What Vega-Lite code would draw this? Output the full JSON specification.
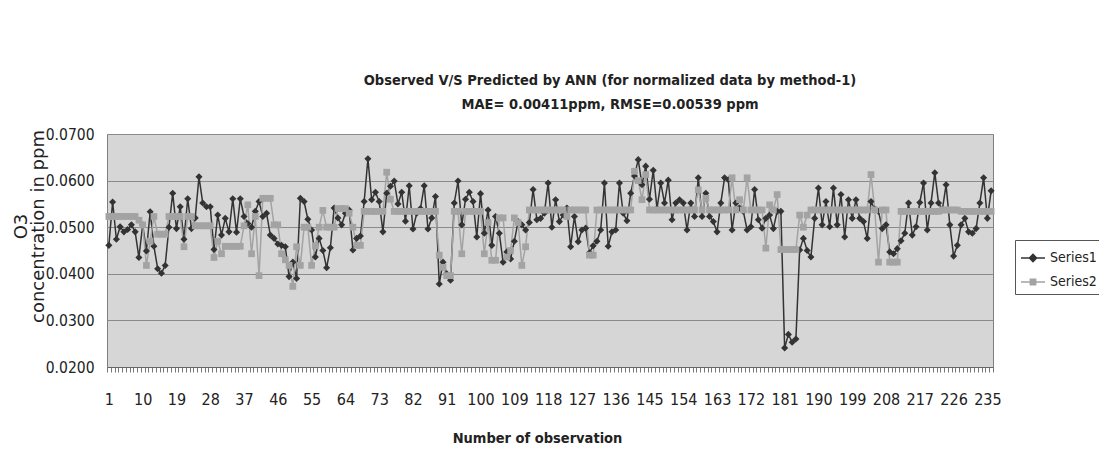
{
  "$schema": "https://vega.github.io/schema/vega-lite/v6.json",
  "width": 886,
  "height": 233,
  "autosize": {"type": "none"},
  "padding": {"left": 107, "top": 134, "right": 106, "bottom": 108},
  "background": "white",
  "title": {
    "text": ["Observed V/S Predicted by ANN (for normalized data by method-1)", "MAE= 0.00411ppm, RMSE=0.00539 ppm"],
    "font": "Liberation Sans Narrow, Arial Narrow, DejaVu Sans Condensed, sans-serif",
    "fontSize": 14.5,
    "fontWeight": "bold",
    "lineHeight": 24,
    "dx": 60,
    "offset": 15,
    "color": "#222222"
  },
  "config": {"view": {"fill": "#d6d6d6", "stroke": "#7f7f7f", "strokeWidth": 1}},
  "data": {"values": [
    {"obs":1,"Series1":0.0461,"Series2":0.0523},{"obs":2,"Series1":0.0554,"Series2":0.0523},{"obs":3,"Series1":0.0474,"Series2":0.0523},{"obs":4,"Series1":0.0501,"Series2":0.0523},{"obs":5,"Series1":0.0490,"Series2":0.0523},{"obs":6,"Series1":0.0495,"Series2":0.0523},{"obs":7,"Series1":0.0505,"Series2":0.0523},{"obs":8,"Series1":0.0490,"Series2":0.0523},{"obs":9,"Series1":0.0435,"Series2":0.0515},{"obs":10,"Series1":0.0505,"Series2":0.0505},
    {"obs":11,"Series1":0.0449,"Series2":0.0418},{"obs":12,"Series1":0.0533,"Series2":0.0470},{"obs":13,"Series1":0.0459,"Series2":0.0523},{"obs":14,"Series1":0.0411,"Series2":0.0485},{"obs":15,"Series1":0.0401,"Series2":0.0485},{"obs":16,"Series1":0.0418,"Series2":0.0485},{"obs":17,"Series1":0.0500,"Series2":0.0523},{"obs":18,"Series1":0.0573,"Series2":0.0523},{"obs":19,"Series1":0.0497,"Series2":0.0523},{"obs":20,"Series1":0.0544,"Series2":0.0523},
    {"obs":21,"Series1":0.0474,"Series2":0.0458},{"obs":22,"Series1":0.0561,"Series2":0.0523},{"obs":23,"Series1":0.0497,"Series2":0.0523},{"obs":24,"Series1":0.0520,"Series2":0.0503},{"obs":25,"Series1":0.0608,"Series2":0.0503},{"obs":26,"Series1":0.0552,"Series2":0.0503},{"obs":27,"Series1":0.0544,"Series2":0.0503},{"obs":28,"Series1":0.0544,"Series2":0.0503},{"obs":29,"Series1":0.0452,"Series2":0.0435},{"obs":30,"Series1":0.0526,"Series2":0.0470},
    {"obs":31,"Series1":0.0483,"Series2":0.0443},{"obs":32,"Series1":0.0519,"Series2":0.0459},{"obs":33,"Series1":0.0490,"Series2":0.0459},{"obs":34,"Series1":0.0561,"Series2":0.0459},{"obs":35,"Series1":0.0489,"Series2":0.0459},{"obs":36,"Series1":0.0561,"Series2":0.0459},{"obs":37,"Series1":0.0523,"Series2":0.0503},{"obs":38,"Series1":0.0508,"Series2":0.0548},{"obs":39,"Series1":0.0500,"Series2":0.0443},{"obs":40,"Series1":0.0534,"Series2":0.0523},
    {"obs":41,"Series1":0.0555,"Series2":0.0396},{"obs":42,"Series1":0.0523,"Series2":0.0562},{"obs":43,"Series1":0.0530,"Series2":0.0562},{"obs":44,"Series1":0.0483,"Series2":0.0562},{"obs":45,"Series1":0.0476,"Series2":0.0505},{"obs":46,"Series1":0.0464,"Series2":0.0505},{"obs":47,"Series1":0.0461,"Series2":0.0443},{"obs":48,"Series1":0.0458,"Series2":0.0430},{"obs":49,"Series1":0.0394,"Series2":0.0418},{"obs":50,"Series1":0.0425,"Series2":0.0373},
    {"obs":51,"Series1":0.0390,"Series2":0.0458},{"obs":52,"Series1":0.0562,"Series2":0.0418},{"obs":53,"Series1":0.0555,"Series2":0.0500},{"obs":54,"Series1":0.0517,"Series2":0.0500},{"obs":55,"Series1":0.0494,"Series2":0.0418},{"obs":56,"Series1":0.0436,"Series2":0.0460},{"obs":57,"Series1":0.0476,"Series2":0.0500},{"obs":58,"Series1":0.0450,"Series2":0.0536},{"obs":59,"Series1":0.0413,"Series2":0.0500},{"obs":60,"Series1":0.0456,"Series2":0.0500},
    {"obs":61,"Series1":0.0541,"Series2":0.0500},{"obs":62,"Series1":0.0520,"Series2":0.0540},{"obs":63,"Series1":0.0505,"Series2":0.0540},{"obs":64,"Series1":0.0530,"Series2":0.0540},{"obs":65,"Series1":0.0537,"Series2":0.0530},{"obs":66,"Series1":0.0451,"Series2":0.0500},{"obs":67,"Series1":0.0476,"Series2":0.0461},{"obs":68,"Series1":0.0481,"Series2":0.0461},{"obs":69,"Series1":0.0555,"Series2":0.0534},{"obs":70,"Series1":0.0647,"Series2":0.0534},
    {"obs":71,"Series1":0.0559,"Series2":0.0534},{"obs":72,"Series1":0.0575,"Series2":0.0534},{"obs":73,"Series1":0.0555,"Series2":0.0534},{"obs":74,"Series1":0.0490,"Series2":0.0534},{"obs":75,"Series1":0.0573,"Series2":0.0618},{"obs":76,"Series1":0.0588,"Series2":0.0560},{"obs":77,"Series1":0.0599,"Series2":0.0534},{"obs":78,"Series1":0.0550,"Series2":0.0534},{"obs":79,"Series1":0.0575,"Series2":0.0534},{"obs":80,"Series1":0.0513,"Series2":0.0534},
    {"obs":81,"Series1":0.0589,"Series2":0.0534},{"obs":82,"Series1":0.0496,"Series2":0.0534},{"obs":83,"Series1":0.0530,"Series2":0.0534},{"obs":84,"Series1":0.0540,"Series2":0.0534},{"obs":85,"Series1":0.0589,"Series2":0.0534},{"obs":86,"Series1":0.0496,"Series2":0.0534},{"obs":87,"Series1":0.0520,"Series2":0.0534},{"obs":88,"Series1":0.0566,"Series2":0.0534},{"obs":89,"Series1":0.0378,"Series2":0.0440},{"obs":90,"Series1":0.0425,"Series2":0.0414},
    {"obs":91,"Series1":0.0400,"Series2":0.0396},{"obs":92,"Series1":0.0386,"Series2":0.0396},{"obs":93,"Series1":0.0552,"Series2":0.0534},{"obs":94,"Series1":0.0599,"Series2":0.0534},{"obs":95,"Series1":0.0505,"Series2":0.0443},{"obs":96,"Series1":0.0560,"Series2":0.0534},{"obs":97,"Series1":0.0575,"Series2":0.0534},{"obs":98,"Series1":0.0555,"Series2":0.0534},{"obs":99,"Series1":0.0479,"Series2":0.0534},{"obs":100,"Series1":0.0572,"Series2":0.0534},
    {"obs":101,"Series1":0.0487,"Series2":0.0443},{"obs":102,"Series1":0.0537,"Series2":0.0510},{"obs":103,"Series1":0.0461,"Series2":0.0429},{"obs":104,"Series1":0.0523,"Series2":0.0429},{"obs":105,"Series1":0.0487,"Series2":0.0520},{"obs":106,"Series1":0.0425,"Series2":0.0520},{"obs":107,"Series1":0.0447,"Series2":0.0436},{"obs":108,"Series1":0.0432,"Series2":0.0450},{"obs":109,"Series1":0.0470,"Series2":0.0520},{"obs":110,"Series1":0.0512,"Series2":0.0510},
    {"obs":111,"Series1":0.0505,"Series2":0.0418},{"obs":112,"Series1":0.0494,"Series2":0.0458},{"obs":113,"Series1":0.0510,"Series2":0.0537},{"obs":114,"Series1":0.0581,"Series2":0.0537},{"obs":115,"Series1":0.0516,"Series2":0.0537},{"obs":116,"Series1":0.0519,"Series2":0.0537},{"obs":117,"Series1":0.0530,"Series2":0.0537},{"obs":118,"Series1":0.0595,"Series2":0.0537},{"obs":119,"Series1":0.0500,"Series2":0.0537},{"obs":120,"Series1":0.0559,"Series2":0.0537},
    {"obs":121,"Series1":0.0512,"Series2":0.0537},{"obs":122,"Series1":0.0526,"Series2":0.0537},{"obs":123,"Series1":0.0541,"Series2":0.0523},{"obs":124,"Series1":0.0458,"Series2":0.0537},{"obs":125,"Series1":0.0523,"Series2":0.0537},{"obs":126,"Series1":0.0469,"Series2":0.0537},{"obs":127,"Series1":0.0494,"Series2":0.0537},{"obs":128,"Series1":0.0498,"Series2":0.0537},{"obs":129,"Series1":0.0445,"Series2":0.0440},{"obs":130,"Series1":0.0460,"Series2":0.0440},
    {"obs":131,"Series1":0.0470,"Series2":0.0537},{"obs":132,"Series1":0.0494,"Series2":0.0537},{"obs":133,"Series1":0.0595,"Series2":0.0537},{"obs":134,"Series1":0.0459,"Series2":0.0537},{"obs":135,"Series1":0.0490,"Series2":0.0537},{"obs":136,"Series1":0.0494,"Series2":0.0537},{"obs":137,"Series1":0.0595,"Series2":0.0537},{"obs":138,"Series1":0.0530,"Series2":0.0537},{"obs":139,"Series1":0.0514,"Series2":0.0537},{"obs":140,"Series1":0.0573,"Series2":0.0537},
    {"obs":141,"Series1":0.0610,"Series2":0.0620},{"obs":142,"Series1":0.0645,"Series2":0.0600},{"obs":143,"Series1":0.0591,"Series2":0.0559},{"obs":144,"Series1":0.0631,"Series2":0.0613},{"obs":145,"Series1":0.0560,"Series2":0.0537},{"obs":146,"Series1":0.0622,"Series2":0.0537},{"obs":147,"Series1":0.0540,"Series2":0.0537},{"obs":148,"Series1":0.0595,"Series2":0.0537},{"obs":149,"Series1":0.0552,"Series2":0.0537},{"obs":150,"Series1":0.0601,"Series2":0.0537},
    {"obs":151,"Series1":0.0516,"Series2":0.0537},{"obs":152,"Series1":0.0552,"Series2":0.0537},{"obs":153,"Series1":0.0559,"Series2":0.0537},{"obs":154,"Series1":0.0552,"Series2":0.0537},{"obs":155,"Series1":0.0494,"Series2":0.0537},{"obs":156,"Series1":0.0552,"Series2":0.0537},{"obs":157,"Series1":0.0523,"Series2":0.0537},{"obs":158,"Series1":0.0606,"Series2":0.0580},{"obs":159,"Series1":0.0523,"Series2":0.0537},{"obs":160,"Series1":0.0573,"Series2":0.0562},
    {"obs":161,"Series1":0.0523,"Series2":0.0537},{"obs":162,"Series1":0.0512,"Series2":0.0537},{"obs":163,"Series1":0.0490,"Series2":0.0537},{"obs":164,"Series1":0.0552,"Series2":0.0537},{"obs":165,"Series1":0.0606,"Series2":0.0537},{"obs":166,"Series1":0.0602,"Series2":0.0537},{"obs":167,"Series1":0.0494,"Series2":0.0606},{"obs":168,"Series1":0.0552,"Series2":0.0537},{"obs":169,"Series1":0.0541,"Series2":0.0559},{"obs":170,"Series1":0.0534,"Series2":0.0537},
    {"obs":171,"Series1":0.0494,"Series2":0.0606},{"obs":172,"Series1":0.0501,"Series2":0.0537},{"obs":173,"Series1":0.0581,"Series2":0.0537},{"obs":174,"Series1":0.0516,"Series2":0.0537},{"obs":175,"Series1":0.0498,"Series2":0.0537},{"obs":176,"Series1":0.0519,"Series2":0.0455},{"obs":177,"Series1":0.0526,"Series2":0.0548},{"obs":178,"Series1":0.0497,"Series2":0.0537},{"obs":179,"Series1":0.0534,"Series2":0.0570},{"obs":180,"Series1":0.0534,"Series2":0.0452},
    {"obs":181,"Series1":0.0241,"Series2":0.0452},{"obs":182,"Series1":0.0270,"Series2":0.0452},{"obs":183,"Series1":0.0253,"Series2":0.0452},{"obs":184,"Series1":0.0260,"Series2":0.0452},{"obs":185,"Series1":0.0451,"Series2":0.0526},{"obs":186,"Series1":0.0476,"Series2":0.0500},{"obs":187,"Series1":0.0450,"Series2":0.0526},{"obs":188,"Series1":0.0436,"Series2":0.0537},{"obs":189,"Series1":0.0519,"Series2":0.0537},{"obs":190,"Series1":0.0584,"Series2":0.0537},
    {"obs":191,"Series1":0.0505,"Series2":0.0537},{"obs":192,"Series1":0.0555,"Series2":0.0537},{"obs":193,"Series1":0.0501,"Series2":0.0537},{"obs":194,"Series1":0.0584,"Series2":0.0537},{"obs":195,"Series1":0.0505,"Series2":0.0537},{"obs":196,"Series1":0.0570,"Series2":0.0537},{"obs":197,"Series1":0.0479,"Series2":0.0537},{"obs":198,"Series1":0.0559,"Series2":0.0537},{"obs":199,"Series1":0.0519,"Series2":0.0537},{"obs":200,"Series1":0.0559,"Series2":0.0537},
    {"obs":201,"Series1":0.0519,"Series2":0.0537},{"obs":202,"Series1":0.0512,"Series2":0.0537},{"obs":203,"Series1":0.0476,"Series2":0.0537},{"obs":204,"Series1":0.0555,"Series2":0.0613},{"obs":205,"Series1":0.0539,"Series2":0.0537},{"obs":206,"Series1":0.0534,"Series2":0.0425},{"obs":207,"Series1":0.0497,"Series2":0.0537},{"obs":208,"Series1":0.0505,"Series2":0.0537},{"obs":209,"Series1":0.0447,"Series2":0.0425},{"obs":210,"Series1":0.0443,"Series2":0.0425},
    {"obs":211,"Series1":0.0454,"Series2":0.0425},{"obs":212,"Series1":0.0471,"Series2":0.0534},{"obs":213,"Series1":0.0487,"Series2":0.0534},{"obs":214,"Series1":0.0552,"Series2":0.0534},{"obs":215,"Series1":0.0483,"Series2":0.0534},{"obs":216,"Series1":0.0501,"Series2":0.0534},{"obs":217,"Series1":0.0553,"Series2":0.0534},{"obs":218,"Series1":0.0595,"Series2":0.0534},{"obs":219,"Series1":0.0494,"Series2":0.0534},{"obs":220,"Series1":0.0552,"Series2":0.0534},
    {"obs":221,"Series1":0.0617,"Series2":0.0534},{"obs":222,"Series1":0.0552,"Series2":0.0534},{"obs":223,"Series1":0.0537,"Series2":0.0537},{"obs":224,"Series1":0.0591,"Series2":0.0537},{"obs":225,"Series1":0.0505,"Series2":0.0537},{"obs":226,"Series1":0.0438,"Series2":0.0537},{"obs":227,"Series1":0.0461,"Series2":0.0537},{"obs":228,"Series1":0.0505,"Series2":0.0534},{"obs":229,"Series1":0.0519,"Series2":0.0534},{"obs":230,"Series1":0.0490,"Series2":0.0534},
    {"obs":231,"Series1":0.0487,"Series2":0.0534},{"obs":232,"Series1":0.0497,"Series2":0.0534},{"obs":233,"Series1":0.0552,"Series2":0.0534},{"obs":234,"Series1":0.0606,"Series2":0.0534},{"obs":235,"Series1":0.0519,"Series2":0.0534},{"obs":236,"Series1":0.0578,"Series2":0.0534}
  ]},
  "transform": [{"fold": ["Series1", "Series2"], "as": ["series", "value"]}],
  "encoding": {
    "x": {
      "field": "obs", "type": "ordinal",
      "scale": {"paddingInner": 0, "paddingOuter": 0},
      "axis": {
        "title": "Number of observation",
        "titleFont": "Liberation Sans Narrow, Arial Narrow, DejaVu Sans Condensed, sans-serif",
        "titleFontSize": 14.5, "titleFontWeight": "bold", "titleColor": "#222222",
        "titlePadding": 24, "titleX": 430,
        "labelExpr": "(datum.value - 1) % 9 === 0 ? datum.label : ''",
        "labelAngle": 0,
        "labelFont": "Liberation Sans Narrow, Arial Narrow, DejaVu Sans Condensed, sans-serif",
        "labelFontSize": 16, "labelColor": "#222222", "labelPadding": 19,
        "labelOverlap": false, "labelBound": false,
        "tickBand": "extent", "tickSize": 5, "tickColor": "#777777",
        "domainColor": "#666666", "grid": false
      }
    },
    "y": {
      "field": "value", "type": "quantitative",
      "scale": {"domain": [0.02, 0.07], "nice": false, "zero": false},
      "axis": {
        "values": [0.02, 0.03, 0.04, 0.05, 0.06, 0.07],
        "format": ".4f",
        "title": ["O3", "concentration in ppm"],
        "titleFont": "DejaVu Sans", "titleFontSize": 18, "titleFontWeight": "normal", "titleColor": "#222222",
        "titleX": -95, "titleY": 92, "titleAlign": "center", "titleBaseline": "top", "titleLineHeight": 17,
        "labelFont": "Liberation Sans Narrow, Arial Narrow, DejaVu Sans Condensed, sans-serif",
        "labelFontSize": 15.5, "labelColor": "#222222", "labelPadding": 13,
        "ticks": false, "domain": false,
        "gridColor": "#8a8a8a", "gridWidth": 1
      }
    },
    "color": {
      "field": "series", "type": "nominal",
      "scale": {"domain": ["Series1", "Series2"], "range": ["#333333", "#a3a3a3"]},
      "legend": {
        "orient": "none", "legendX": 908, "legendY": 106,
        "title": null, "strokeColor": "#555555", "fillColor": "white", "padding": 5,
        "labelFont": "Liberation Sans Narrow, Arial Narrow, DejaVu Sans Condensed, sans-serif",
        "labelFontSize": 14, "labelColor": "#222222", "labelOffset": 4,
        "symbolSize": 576, "rowPadding": 4, "symbolOpacity": 1, "symbolStrokeWidth": 1.5,
        "encoding": {
          "symbols": {
            "shape": {"value": {"expr": "datum.value === 'Series1' ? 'M-1,0L1,0M0,-0.3L0.3,0L0,0.3L-0.3,0Z' : 'M-1,0L1,0M-0.22,-0.22L0.22,-0.22L0.22,0.22L-0.22,0.22Z'"}},
            "fill": {"value": {"expr": "datum.value === 'Series1' ? '#333333' : '#a3a3a3'"}},
            "stroke": {"value": {"expr": "datum.value === 'Series1' ? '#333333' : '#a3a3a3'"}},
            "strokeWidth": {"value": 1.5}
          }
        }
      }
    }
  },
  "layer": [
    {"mark": {"type": "line", "strokeWidth": 1.5}},
    {
      "transform": [{"filter": "datum.series === 'Series1'"}],
      "mark": {"type": "point", "filled": true, "opacity": 1, "size": 50, "shape": "diamond"}
    },
    {
      "transform": [{"filter": "datum.series === 'Series2'"}],
      "mark": {"type": "point", "filled": true, "opacity": 1, "size": 45, "shape": "square"}
    }
  ]
}
